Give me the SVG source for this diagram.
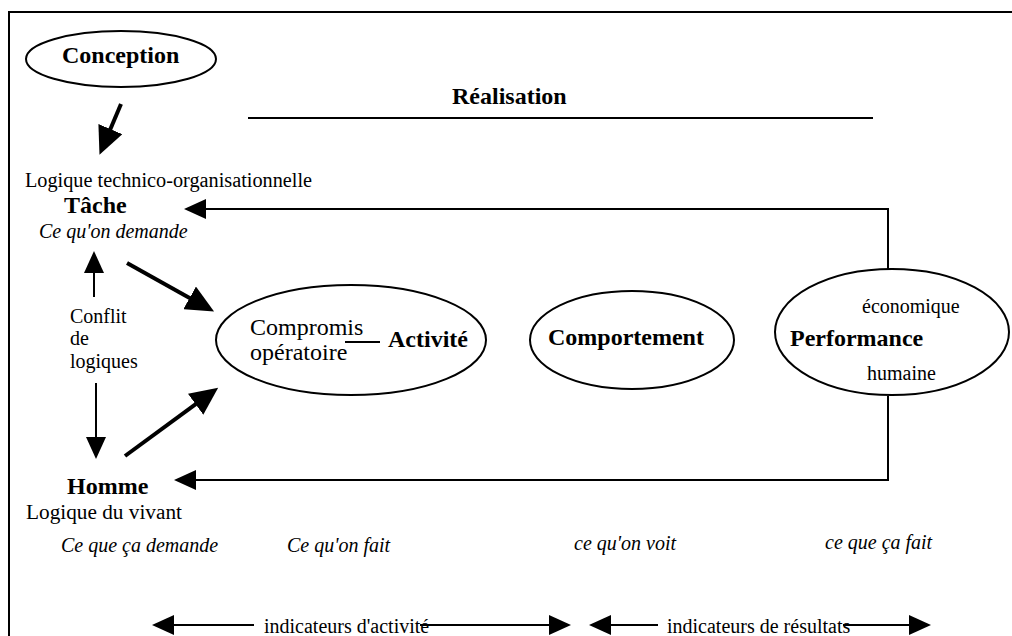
<svg xmlns="http://www.w3.org/2000/svg" width="1012" height="636" viewBox="0 0 1012 636">
<style>
text{font-family:"Liberation Serif","Times New Roman",serif;fill:#000;font-size:20px}
.b{font-weight:bold;font-size:24px}
.i{font-style:italic}
.big{font-size:24px}
.sh{fill:none;stroke:#000;stroke-width:2}
.thin{fill:none;stroke:#000;stroke-width:2}
.thick{fill:none;stroke:#000;stroke-width:4}
</style>
<defs>
<marker id="ah" markerUnits="userSpaceOnUse" markerWidth="24" markerHeight="20" refX="1" refY="10" orient="auto"><path d="M0,0 L22,10 L0,20 z" fill="#000"/></marker>
<marker id="ahb" markerUnits="userSpaceOnUse" markerWidth="30" markerHeight="26" refX="1" refY="13" orient="auto"><path d="M0,0 L28,13 L0,26 z" fill="#000"/></marker>
</defs>
<rect x="9" y="12" width="1012" height="640" class="sh"/>
<g id="conception"><ellipse cx="121" cy="59" rx="95" ry="28" class="sh"/><text class="b" x="62" y="63">Conception</text></g>
<g id="realisation"><text class="b" x="452" y="104">Réalisation</text><line x1="248" y1="118" x2="873" y2="118" class="sh"/></g>
<g id="tache"><text x="25" y="187" textLength="287" lengthAdjust="spacingAndGlyphs">Logique technico-organisationnelle</text><text class="b" x="64" y="213">Tâche</text><text class="i" x="39" y="238">Ce qu'on demande</text></g>
<g id="conflit"><text x="70" y="323">Conflit</text><text x="70" y="345">de</text><text x="70" y="368">logiques</text></g>
<g id="activite"><ellipse cx="351" cy="340" rx="135" ry="55" class="sh"/><text class="big" x="250" y="335">Compromis</text><text class="big" x="250" y="360">opératoire</text><line x1="345" y1="342" x2="380" y2="342" class="sh"/><text class="b" x="388" y="347">Activité</text></g>
<g id="comportement"><ellipse cx="632" cy="340" rx="102" ry="49" class="sh"/><text class="b" x="548" y="345">Comportement</text></g>
<g id="performance"><ellipse cx="892" cy="332" rx="117" ry="63" class="sh"/><text x="862" y="313">économique</text><text class="b" x="790" y="346">Performance</text><text x="867" y="380">humaine</text></g>
<g id="homme"><text class="b" x="67" y="494">Homme</text><text x="26" y="519" textLength="156" lengthAdjust="spacingAndGlyphs">Logique du vivant</text></g>
<g id="labels"><text class="i" x="61" y="552">Ce que ça demande</text><text class="i" x="287" y="552">Ce qu'on fait</text><text class="i" x="574" y="550">ce qu'on voit</text><text class="i" x="825" y="549">ce que ça fait</text><text x="264" y="633">indicateurs d'activité</text><text x="667" y="633">indicateurs de résultats</text></g>
<g id="connectors">
<line x1="121" y1="104" x2="110" y2="130" class="thick" marker-end="url(#ahb)"/>
<path d="M888,269 V209 H205" class="thin" marker-end="url(#ah)"/>
<path d="M888,396 V480 H195" class="thin" marker-end="url(#ah)"/>
<line x1="94" y1="297" x2="94" y2="272" class="thin" marker-end="url(#ah)"/>
<line x1="96" y1="383" x2="96" y2="438" class="thin" marker-end="url(#ah)"/>
<line x1="127" y1="263" x2="190.5" y2="298.4" class="thick" marker-end="url(#ahb)"/>
<line x1="125" y1="456" x2="196.4" y2="403.6" class="thick" marker-end="url(#ahb)"/>
<line x1="254" y1="625" x2="173" y2="625" class="thin" marker-end="url(#ah)"/>
<line x1="420" y1="625" x2="550" y2="625" class="thin" marker-end="url(#ah)"/>
<line x1="658" y1="625" x2="610" y2="625" class="thin" marker-end="url(#ah)"/>
<line x1="843" y1="625" x2="910" y2="625" class="thin" marker-end="url(#ah)"/>
</g>
</svg>
